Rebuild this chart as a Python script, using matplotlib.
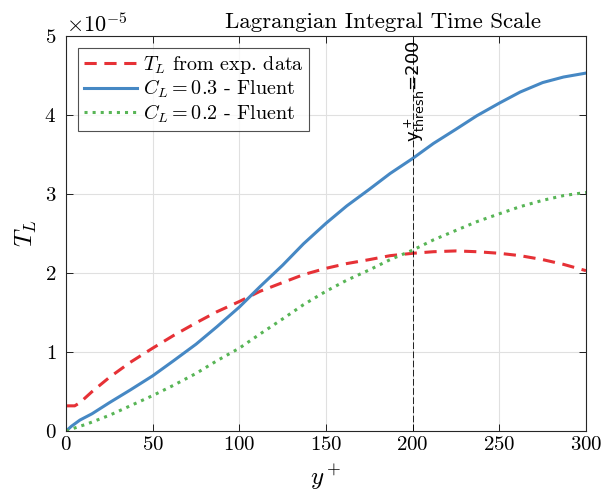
import numpy as np
import matplotlib
matplotlib.use("Agg")
import matplotlib.pyplot as plt

plt.rcParams['font.family'] = 'serif'
plt.rcParams['font.serif'] = ['cmr10']
plt.rcParams['mathtext.fontset'] = 'cm'
plt.rcParams['axes.formatter.use_mathtext'] = True
plt.rcParams['axes.unicode_minus'] = False

# data (values in units of 1e-5)
yp_exp = [0, 5, 8, 15, 25, 37, 50, 62, 75, 87, 100, 112, 125, 137, 150, 162, 175, 187,
          200, 212, 225, 237, 250, 262, 275, 287, 300]
tl_exp = [0.32, 0.32, 0.36, 0.50, 0.68, 0.87, 1.05, 1.21, 1.37, 1.51, 1.64, 1.77, 1.88,
          1.98, 2.06, 2.12, 2.17, 2.22, 2.25, 2.27, 2.28, 2.27, 2.25, 2.22, 2.17, 2.11, 2.03]

yp_c03 = [0, 3, 8, 15, 25, 37, 50, 62, 75, 87, 100, 112, 125, 137, 150, 162, 175, 187,
          200, 212, 225, 237, 250, 262, 275, 287, 300]
tl_c03 = [0.0, 0.06, 0.14, 0.22, 0.36, 0.52, 0.70, 0.89, 1.10, 1.32, 1.57, 1.83, 2.10,
          2.37, 2.63, 2.85, 3.06, 3.26, 3.45, 3.64, 3.82, 3.99, 4.15, 4.29, 4.41, 4.48, 4.53]

yp_c02 = [0, 5, 12, 25, 37, 50, 62, 75, 87, 100, 112, 125, 137, 150, 162, 175, 187,
          200, 212, 225, 237, 250, 262, 275, 287, 300]
tl_c02 = [0.0, 0.04, 0.09, 0.20, 0.32, 0.45, 0.58, 0.73, 0.89, 1.05, 1.23, 1.42, 1.60,
          1.77, 1.91, 2.04, 2.17, 2.29, 2.42, 2.54, 2.65, 2.75, 2.84, 2.92, 2.98, 3.02]

scale = 1e-5
red = '#E63136'
blue = '#4688C4'
green = '#58B556'

fig = plt.figure(figsize=(6.06, 4.99), dpi=100)
ax = fig.add_axes([0.109, 0.136, 0.858, 0.792])

ax.plot(yp_exp, np.array(tl_exp) * scale, '--', color=red, lw=2.2, dashes=(4, 2.5),
        label=r'$T_L$ from exp. data')
ax.plot(yp_c03, np.array(tl_c03) * scale, '-', color=blue, lw=2.2,
        label=r'$C_L=0.3$ - Fluent')
ax.plot(yp_c02, np.array(tl_c02) * scale, ':', color=green, lw=2.2,
        label=r'$C_L=0.2$ - Fluent')

ax.axvline(200, color='k', lw=0.6, ls=(0, (8, 3)))
ax.text(201.5, 4.95e-5, r'$\mathregular{y^+_{thresh}}$=200', rotation=90,
        ha='center', va='top', fontsize=13, family='DejaVu Sans',
        math_fontfamily='dejavusans')

ax.set_xlim(0, 300)
ax.set_ylim(0, 5e-5)
ax.set_xticks([0, 50, 100, 150, 200, 250, 300])
ax.set_yticks(np.arange(0, 6) * 1e-5)
ax.ticklabel_format(axis='y', style='sci', scilimits=(0, 0))
ax.yaxis.get_offset_text().set_fontsize(16)
ax.tick_params(direction='in', top=True, right=True, labelsize=15, length=5, width=0.6)
ax.tick_params(axis='y', pad=7)
ax.grid(True, color='#E0E0E0', lw=0.8)
ax.set_axisbelow(True)
for s in ax.spines.values():
    s.set_linewidth(0.8)
    s.set_color('#262626')

ax.set_xlabel(r'$y^+$', fontsize=18, labelpad=6)
ax.set_ylabel(r'$T_L$', fontsize=18)
ax.set_title('Lagrangian Integral Time Scale', fontsize=16.5, x=0.61)

leg = ax.legend(loc='upper left', fontsize=14.5, frameon=True, fancybox=False,
                edgecolor='#262626', handlelength=2.6, borderpad=0.3,
                labelspacing=0.1, handletextpad=0.3, borderaxespad=0.6)
leg.get_frame().set_linewidth(0.8)

fig.savefig('out.png', dpi=100)
